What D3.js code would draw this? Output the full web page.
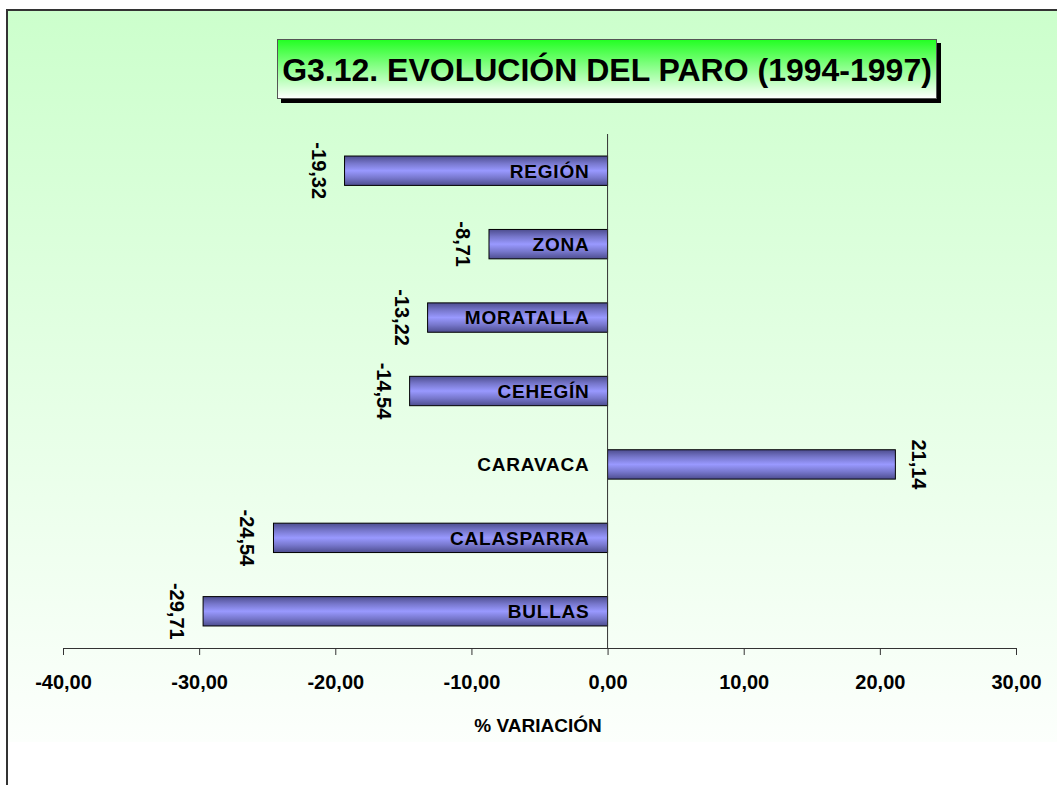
<!DOCTYPE html>
<html>
<head>
<meta charset="utf-8">
<script src="https://cdn.jsdelivr.net/npm/d3@7"></script>
<style>
  html, body { margin: 0; padding: 0; background: #ffffff; }
  svg { display: block; font-family: "Liberation Sans", Arial, sans-serif; }
</style>
</head>
<body>
<div id="chart"></div>
<script>
// Chart data
const categories = ["REGIÓN", "ZONA", "MORATALLA", "CEHEGÍN", "CARAVACA", "CALASPARRA", "BULLAS"];
const values = [-19.32, -8.71, -13.22, -14.54, 21.14, -24.54, -29.71];
const xTicks = [-40, -30, -20, -10, 0, 10, 20, 30];
const titleText = "G3.12. EVOLUCIÓN DEL PARO (1994-1997)";
const axisTitle = "% VARIACIÓN";

const width = 1057;
const height = 785;

// Spanish number format (decimal comma, plain hyphen for minus)
const locale = d3.formatLocale({ decimal: ",", thousands: ".", grouping: [3], currency: ["", " €"], minus: "-" });
const fmt = locale.format(".2f");

const svg = d3.select("#chart")
    .append("svg")
    .attr("width", width)
    .attr("height", height);

const defs = svg.append("defs");

// Background gradient: light green to white
const bg = defs.append("linearGradient")
    .attr("id", "bgGrad")
    .attr("x1", 0).attr("y1", 0).attr("x2", 0).attr("y2", 1);
bg.append("stop").attr("offset", "0%").attr("stop-color", "#ccffcc");
bg.append("stop").attr("offset", "100%").attr("stop-color", "#fcfffc");

// Title box gradient
const tg = defs.append("linearGradient")
    .attr("id", "titleGrad")
    .attr("x1", 0).attr("y1", 0).attr("x2", 0).attr("y2", 1);
tg.append("stop").attr("offset", "0%").attr("stop-color", "#22ff22");
tg.append("stop").attr("offset", "100%").attr("stop-color", "#ffffff");

// Bar gradient (cylinder-like horizontal bands)
const bgBar = defs.append("linearGradient")
    .attr("id", "barGrad")
    .attr("x1", 0).attr("y1", 0).attr("x2", 0).attr("y2", 1);
bgBar.append("stop").attr("offset", "0%").attr("stop-color", "#4d4d8f");
bgBar.append("stop").attr("offset", "25%").attr("stop-color", "#7777cc");
bgBar.append("stop").attr("offset", "50%").attr("stop-color", "#9999ff");
bgBar.append("stop").attr("offset", "75%").attr("stop-color", "#7777cc");
bgBar.append("stop").attr("offset", "100%").attr("stop-color", "#4d4d8f");

// Chart area background and border
svg.append("rect")
    .attr("x", 7).attr("y", 10)
    .attr("width", width + 10).attr("height", 732)
    .attr("fill", "url(#bgGrad)");
svg.append("rect")
    .attr("x", 7).attr("y", 10)
    .attr("width", width + 10).attr("height", height + 10)
    .attr("fill", "none")
    .attr("stroke", "#333333")
    .attr("stroke-width", 2);

// Scales
const x = d3.scaleLinear().domain([-40, 30]).range([63, 1016]);
const y = d3.scaleBand().domain(categories).range([134, 648]).paddingInner(0.6).paddingOuter(0.3);

// Title box with shadow
svg.append("rect")
    .attr("x", 281).attr("y", 43)
    .attr("width", 660).attr("height", 60)
    .attr("fill", "#000000");
svg.append("rect")
    .attr("x", 277.5).attr("y", 39.5)
    .attr("width", 659).attr("height", 59)
    .attr("fill", "url(#titleGrad)")
    .attr("stroke", "#555555")
    .attr("stroke-width", 1);
svg.append("text")
    .attr("x", 607).attr("y", 81)
    .attr("text-anchor", "middle")
    .attr("font-size", 32)
    .attr("font-weight", "bold")
    .attr("fill", "#000000")
    .text(titleText);

// Bars
svg.append("g")
    .selectAll("rect")
    .data(values)
    .enter().append("rect")
    .attr("x", d => x(Math.min(0, d)))
    .attr("y", (d, i) => y(categories[i]))
    .attr("width", d => Math.abs(x(d) - x(0)))
    .attr("height", y.bandwidth())
    .attr("fill", "url(#barGrad)")
    .attr("stroke", "#000000")
    .attr("stroke-width", 1);

// Category labels, right aligned near zero
svg.append("g")
    .selectAll("text")
    .data(categories)
    .enter().append("text")
    .attr("x", x(0) - 18)
    .attr("y", d => y(d) + y.bandwidth() / 2)
    .attr("dy", "0.36em")
    .attr("text-anchor", "end")
    .attr("font-size", 19)
    .attr("font-weight", "bold")
    .attr("letter-spacing", 0.8)
    .attr("fill", "#000000")
    .text(d => d);

// Value labels, rotated
svg.append("g")
    .selectAll("text")
    .data(values)
    .enter().append("text")
    .attr("transform", (d, i) => {
        const cy = y(categories[i]) + y.bandwidth() / 2;
        const tx = d < 0 ? x(d) - 33 : x(d) + 17;
        return `translate(${tx},${cy}) rotate(90)`;
    })
    .attr("text-anchor", "middle")
    .attr("font-size", 20)
    .attr("font-weight", "bold")
    .attr("fill", "#000000")
    .text(d => fmt(d));

// Zero line
svg.append("line")
    .attr("x1", x(0)).attr("x2", x(0))
    .attr("y1", 134).attr("y2", 648)
    .attr("stroke", "#333333")
    .attr("stroke-width", 1);

// X axis
const xAxis = svg.append("g")
    .attr("transform", "translate(0,648)")
    .call(d3.axisBottom(x).tickValues(xTicks).tickSize(7).tickSizeOuter(0).tickFormat(fmt));
xAxis.select(".domain").attr("stroke", "#333333");
xAxis.selectAll(".tick line").attr("stroke", "#333333");
xAxis.selectAll(".tick text")
    .attr("y", 41)
    .attr("dy", 0)
    .attr("font-family", "'Liberation Sans', Arial, sans-serif")
    .attr("font-size", 20)
    .attr("font-weight", "bold")
    .attr("fill", "#000000");

// Axis title
svg.append("text")
    .attr("x", 538).attr("y", 732)
    .attr("text-anchor", "middle")
    .attr("font-size", 19)
    .attr("font-weight", "bold")
    .attr("fill", "#000000")
    .text(axisTitle);
</script>
</body>
</html>
